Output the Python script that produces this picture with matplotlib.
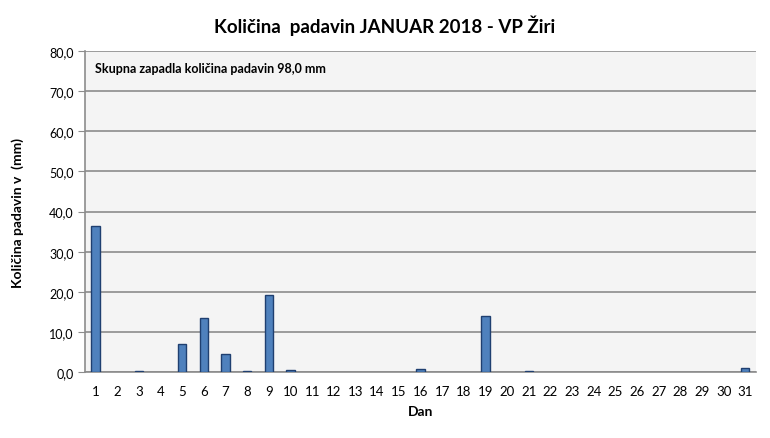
import matplotlib
matplotlib.use("Agg")
import matplotlib.pyplot as plt
from matplotlib.ticker import FuncFormatter

# daily precipitation, January 2018
days = list(range(1, 32))
rain = [36.5, 0, 0.4, 0, 6.9, 13.6, 4.4, 0.2, 19.2, 0.6,
        0, 0, 0, 0, 0, 0.9, 0, 0, 14.1, 0,
        0.2, 0, 0, 0, 0, 0, 0, 0, 0, 0, 1.0]
y_ticks = [0, 10, 20, 30, 40, 50, 60, 70, 80]
total = 98.0

plt.rcParams['font.family'] = ['Lato', 'DejaVu Sans']

fig = plt.figure(figsize=(7.7, 4.39), dpi=100)
ax = fig.add_axes([0.110, 0.150, 0.872, 0.7315])
ax.set_facecolor('#f4f4f4')

# days without rain get no bar at all (not even an outline)
wet_days = [d for d, r in zip(days, rain) if r > 0]
wet_rain = [r for r in rain if r > 0]
ax.bar(wet_days, wet_rain, width=0.38, color='#4f81bd', edgecolor='#1f3f70', linewidth=1, zorder=3)

ax.set_xlim(0.5, 31.5)
ax.set_ylim(0, 80)
ax.set_yticks(y_ticks)
ax.yaxis.set_major_formatter(FuncFormatter(lambda v, p: f"{v:.1f}".replace('.', ',')))
ax.set_xticks(days)
ax.set_xticklabels([str(d) for d in days])
ax.grid(axis='y', color='#8c8c8c', linewidth=1.2, zorder=1)

for s in ['top', 'right']:
    ax.spines[s].set_visible(False)
ax.spines['left'].set_color('#8c8c8c')
ax.spines['bottom'].set_color('#8c8c8c')
ax.spines['left'].set_linewidth(1.2)
ax.spines['bottom'].set_linewidth(1.2)
ax.tick_params(axis='y', length=5, color='#8c8c8c', labelsize=9, pad=3)
ax.tick_params(axis='x', length=0, labelsize=9.5, pad=9)

ax.set_xlabel("Dan", fontsize=10, fontweight='bold', labelpad=6)
ax.set_ylabel("Količina padavin v  (mm)", fontsize=10, fontweight='bold', labelpad=18)
fig.suptitle("Količina  padavin JANUAR 2018 - VP Žiri", fontsize=13.5, fontweight='bold', y=0.965)

ax.text(0.015, 0.965, f"Skupna zapadla količina padavin {total:.1f} mm".replace('.', ','),
        transform=ax.transAxes, fontsize=9, fontweight='bold', va='top', ha='left')

fig.savefig("out.png", dpi=100)
